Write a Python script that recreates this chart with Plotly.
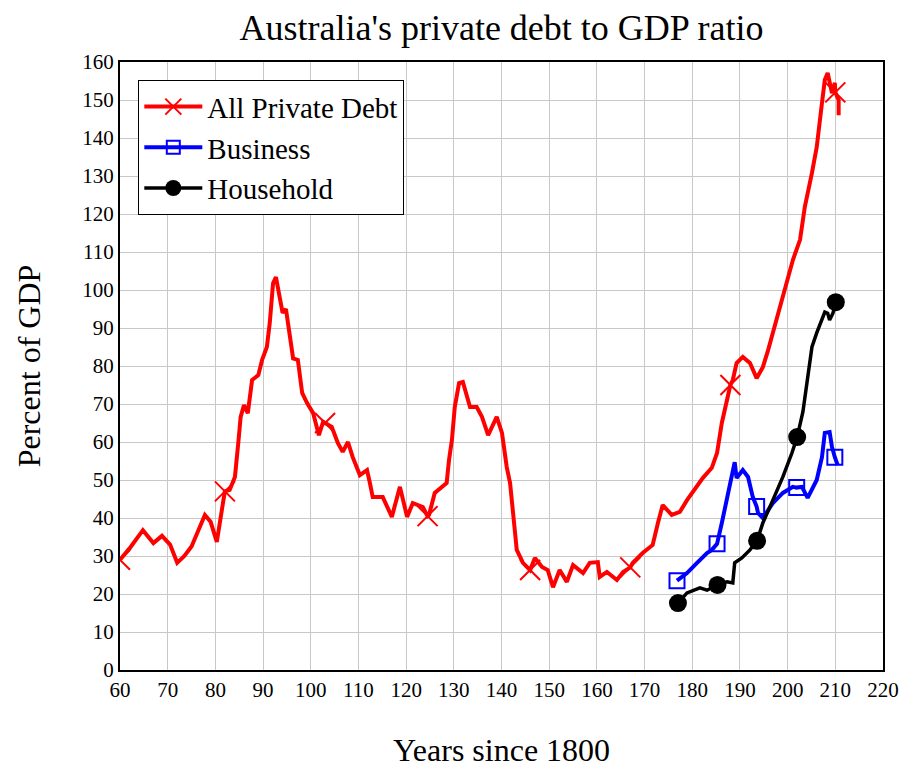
import plotly.graph_objects as go

# All Private Debt (years since 1800, percent of GDP)
debt_x = [60, 62, 64.8, 67, 68.8, 70.5, 72, 73.5, 75, 77.8, 79, 80.3, 81.6, 82, 83, 84.1, 84.8, 85.3, 86, 86.8,
          87.7, 89, 89.8, 90.8, 91.4, 92.1, 92.7, 93.3, 94.1, 94.8, 95.6, 96.3, 97.3, 98.2, 99.2, 100.5,
          101.7, 102.6, 103, 104.4, 105.7, 106.7, 107.8, 108.8, 110.3, 111.8, 112.4, 113, 115.1, 117,
          118.7, 120.2, 121.4, 123.5, 124.5, 124.8, 126, 127.5, 128.5, 129, 129.6, 130.2, 131.1, 131.9,
          133.4, 134.8, 135.9, 137.2, 139, 140.1, 141.1, 141.8, 142.4, 143.2, 144.5, 146, 147, 148.5,
          149.7, 150.8, 152.2, 153.7, 155, 157.1, 158.5, 160.2, 160.6, 162.1, 164.2, 165.5, 167, 167.5,
          169.6, 171.7, 172.8, 173.8, 175.7, 177.4, 178.9, 180.5, 182.2, 184.1, 185.2, 186.2, 187.5,
          188, 188.5, 189.3, 190.6, 192.1, 193.5, 194.8, 195.8, 196.9, 199, 201.1, 202.6, 203.6, 205.1,
          206.1, 207.2, 207.8, 208.4, 209.3, 209.9, 210, 210.7, 210.7]
debt_y = [29, 32, 36.8, 33.4, 35.3, 33, 28.2, 30, 32.5, 40.8, 39, 33.7, 44, 47, 47.4, 50.8, 59.7, 66.6, 69.7, 67.6,
          76.3, 77.6, 81.6, 85, 91.3, 101.8, 103.4, 99.2, 94, 95, 88.7, 82, 81.6, 72.9, 70.3, 67.6,
          61.8, 65.3, 65, 64, 59.7, 57.4, 60, 56, 51.3, 52.6, 49.2, 45.5, 45.5, 40.3,
          48.2, 40.3, 43.9, 42.9, 40.5, 40.8, 46.6, 48.2, 49.2, 55.3, 60.5, 69.2, 75.5, 75.8,
          69.2, 69.2, 66.6, 61.8, 66.6, 62.4, 53.4, 49.2, 42.1, 31.6, 28.2, 26.3, 29.5, 27.1,
          26.3, 21.8, 26.3, 23.2, 27.6, 25.5, 28.2, 28.4, 24.5, 25.8, 23.7, 25.8, 27, 28.2,
          30.8, 32.9, 38.7, 43.4, 40.8, 41.6, 44.7, 47.4, 50.5, 53.2, 57.1, 65, 72.4,
          75, 76.3, 80.8, 82.4, 80.8, 76.8, 79.7, 83.7, 88.7, 99.2, 107.9, 113.2, 121.8, 130.8,
          137.6, 149.2, 155.3, 157.1, 151.8, 154.5, 152, 150, 146]
debt_marker_x = [60, 82, 103, 124.5, 146, 167, 188, 210]

# Business
bus_x = [176.8, 178.9, 181, 183.1, 184.1, 185.2, 186.2, 187.3, 188.3, 188.9, 189.3, 190.6, 191.7, 192.7,
         193.5, 193.8, 194.8, 196.9, 199, 201.1, 201.9, 203, 204.2, 206.1, 207.2, 207.8, 208.8, 209.3,
         209.9, 210.5]
bus_y = [23.5, 25.5, 28.2, 30.8, 31.6, 33.2, 38.7, 45.5, 50.8, 54.7, 50.5, 52.6, 50.8, 45.5,
         43, 41.3, 40, 43.9, 46.6, 48.2, 48, 48.2, 45.3, 50, 56, 62.4, 62.6, 58.7,
         56, 53.9]
bus_marker_x = [176.8, 185.2, 193.5, 201.9, 209.9]

# Household
hh_x = [177, 178.9, 181.6, 183.1, 185.3, 187.3, 188.5, 188.9, 190.4, 192.1, 193.6, 194.8, 196.9, 199,
        200.9, 202, 203.2, 204.2, 205.1, 206.1, 207.2, 207.8, 208.4, 208.8, 209.5, 210.1]
hh_y = [17.6, 20.3, 21.6, 21, 22.4, 23.2, 22.9, 28.2, 29.5, 31.6, 34, 38.7, 44.7, 50.8,
        57.1, 61.3, 67.9, 76.3, 85, 88.7, 92.1, 94.2, 93.9, 92.1, 93.9, 96.8]
hh_marker_x = [177, 185.3, 193.6, 202, 210.1]

series_names = ["All Private Debt", "Business", "Household"]

FONT = "Liberation Serif, Times New Roman, serif"


def sizes(xs, marks, s):
    return [s if x in marks else 0 for x in xs]


styles = [
    dict(line=dict(color="#ff0000", width=4), symbol="x-thin", color="#ff0000", mline=2),
    dict(line=dict(color="#0000ff", width=4), symbol="square-open", color="#0000ff", mline=2),
    dict(line=dict(color="#000000", width=3.5), symbol="circle", color="#000000", mline=0),
]
marker_sizes = [20, 15, 18]
legend_sizes = [16, 13, 16]
data = [(debt_x, debt_y, debt_marker_x), (bus_x, bus_y, bus_marker_x), (hh_x, hh_y, hh_marker_x)]

fig = go.Figure()
for name, st, (xs, ys, mk), ms, ls in zip(series_names, styles, data, marker_sizes, legend_sizes):
    fig.add_trace(go.Scatter(
        x=xs, y=ys, name=name, mode="lines+markers", showlegend=False, legendgroup=name,
        line=st["line"],
        marker=dict(symbol=st["symbol"], size=sizes(xs, mk, ms), opacity=1, color=st["color"],
                    line=dict(color=st["color"], width=st["mline"])),
    ))
    # legend entry (no data drawn)
    fig.add_trace(go.Scatter(
        x=[None], y=[None], name=name, mode="lines+markers", legendgroup=name,
        line=st["line"],
        marker=dict(symbol=st["symbol"], size=ls, opacity=1, color=st["color"],
                    line=dict(color=st["color"], width=st["mline"])),
    ))

axis_common = dict(
    showgrid=True, gridcolor="#c8c8c8", gridwidth=1,
    showline=True, linecolor="#000000", linewidth=2, mirror=True,
    ticks="", zeroline=False, automargin=False,
    tickfont=dict(family=FONT, size=21, color="#000000"),
)

fig.update_layout(
    width=909, height=767,
    paper_bgcolor="white", plot_bgcolor="white",
    margin=dict(l=112, r=34, t=54, b=105),
    title=dict(text="Australia's private debt to GDP ratio", x=0.5, xref="paper", xanchor="center",
               y=1 - 19 / 767, yanchor="middle",
               font=dict(family=FONT, size=36, color="#000000")),
    xaxis=dict(range=[60, 220], dtick=10, tick0=60,
               title=dict(text="Years since 1800", standoff=37,
                          font=dict(family=FONT, size=32, color="#000000")),
               **axis_common),
    yaxis=dict(range=[0, 160], dtick=10, tick0=0,
               title=dict(text="Percent of GDP", standoff=32,
                          font=dict(family=FONT, size=32, color="#000000")),
               **axis_common),
    legend=dict(x=0.024, y=0.97, xanchor="left", yanchor="top",
                bgcolor="white", bordercolor="#000000", borderwidth=1,
                font=dict(family=FONT, size=29, color="#000000"),
                itemsizing="trace", itemwidth=58, tracegroupgap=0),
    showlegend=True,
)

fig.write_html("out.html")
